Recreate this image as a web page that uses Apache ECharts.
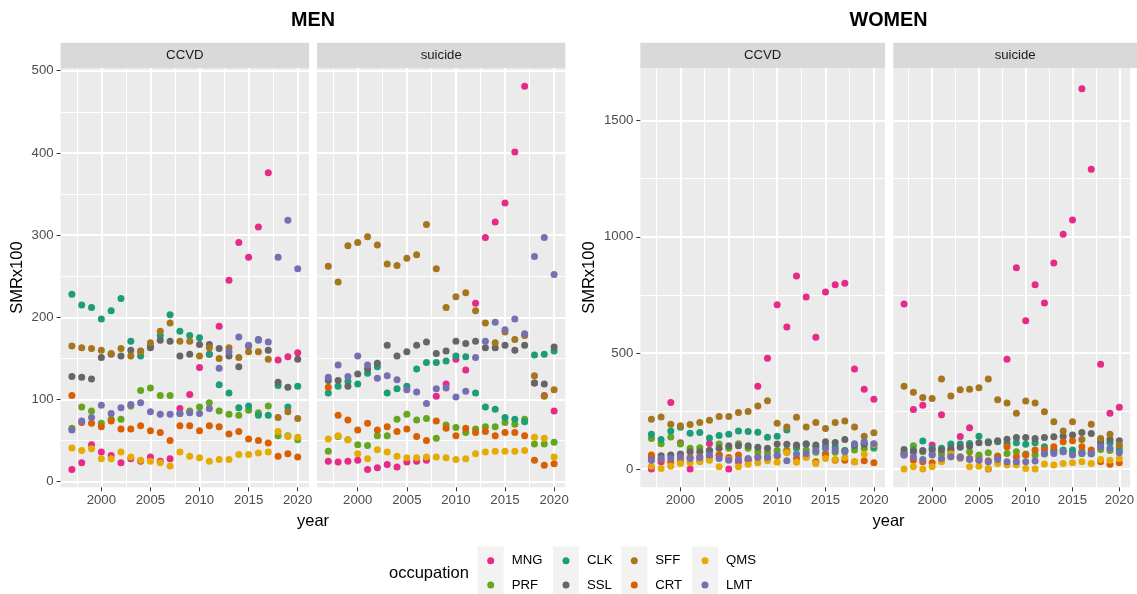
<!DOCTYPE html>
<html>
<head>
<meta charset="utf-8">
<script src="https://cdn.jsdelivr.net/npm/echarts@6/dist/echarts.min.js"></script>
<style>
  html, body { margin: 0; padding: 0; background: #fff; }
  #chart { width: 1137px; height: 594px; }
</style>
</head>
<body>
<div id="chart"></div>
<script>
// years on the x axis
const years = [1997, 1998, 1999, 2000, 2001, 2002, 2003, 2004, 2005, 2006, 2007, 2008,
  2009, 2010, 2011, 2012, 2013, 2014, 2015, 2016, 2017, 2018, 2019, 2020]
const occupations = ['MNG', 'PRF', 'CLK', 'SSL', 'SFF', 'CRT', 'QMS', 'LMT']
const xTicks = [2000, 2005, 2010, 2015, 2020]
const xMinor = [1997.5, 2002.5, 2007.5, 2012.5, 2017.5]
const menTicks = [0, 100, 200, 300, 400, 500]
const menMinor = [50, 150, 250, 350, 450]
const womenTicks = [0, 500, 1000, 1500]
const womenMinor = [250, 750, 1250]

// MEN - CCVD
const menCcvdMNG = [15, 23, 45, 36, 32, 23, 28, 25, 30, 25, 28, 89, 106, 139, 155, 189, 245, 291, 273, 310, 376, 148, 152, 157]
const menCcvdPRF = [65, 91, 86, 71, 76, 76, 92, 111, 114, 105, 105, 83, 86, 91, 96, 86, 82, 81, 87, 84, 92, 56, 56, 51]
const menCcvdCLK = [228, 215, 212, 198, 208, 223, 171, 153, 165, 178, 203, 183, 178, 175, 155, 118, 108, 90, 92, 81, 81, 117, 91, 116]
const menCcvdSSL = [128, 127, 125, 151, 155, 153, 160, 159, 163, 172, 171, 153, 155, 167, 167, 162, 153, 140, 165, 173, 160, 121, 115, 149]
const menCcvdSFF = [165, 163, 162, 160, 156, 162, 153, 158, 169, 183, 193, 171, 171, 153, 163, 150, 163, 151, 158, 158, 149, 78, 85, 77]
const menCcvdCRT = [105, 72, 71, 67, 74, 64, 64, 68, 62, 60, 50, 68, 68, 62, 68, 67, 58, 61, 52, 50, 47, 31, 34, 30]
const menCcvdQMS = [41, 38, 40, 28, 28, 36, 30, 26, 25, 23, 19, 36, 31, 29, 25, 27, 27, 33, 33, 35, 36, 61, 55, 54]
const menCcvdLMT = [63, 74, 78, 93, 83, 90, 94, 96, 85, 82, 82, 83, 84, 83, 89, 138, 158, 176, 166, 172, 170, 273, 318, 259]

// MEN - suicide
const menSuiMNG = [25, 24, 25, 26, 15, 17, 21, 18, 24, 25, 26, 104, 119, 149, 136, 217, 297, 316, 339, 401, 481, 120, 105, 86]
const menSuiPRF = [37, 55, 51, 45, 44, 56, 56, 76, 82, 75, 77, 53, 69, 66, 60, 64, 67, 67, 72, 70, 76, 46, 46, 48]
const menSuiCLK = [108, 116, 122, 119, 132, 140, 108, 113, 116, 137, 145, 145, 147, 153, 152, 108, 91, 88, 78, 76, 73, 154, 155, 159]
const menSuiSSL = [123, 123, 116, 131, 137, 144, 166, 153, 158, 166, 170, 156, 159, 171, 168, 171, 163, 163, 166, 160, 166, 120, 119, 164]
const menSuiSFF = [262, 243, 287, 291, 298, 288, 265, 263, 272, 276, 313, 259, 212, 225, 230, 208, 193, 169, 182, 173, 178, 129, 104, 112]
const menSuiCRT = [115, 81, 75, 63, 71, 63, 67, 61, 64, 55, 50, 74, 65, 56, 65, 60, 61, 56, 60, 60, 56, 26, 20, 22]
const menSuiQMS = [52, 56, 51, 34, 28, 39, 36, 31, 29, 29, 30, 30, 29, 27, 28, 34, 36, 37, 37, 37, 38, 54, 53, 30]
const menSuiLMT = [127, 142, 128, 153, 142, 126, 129, 124, 112, 109, 95, 113, 114, 103, 110, 151, 171, 194, 185, 198, 180, 274, 297, 252]

// WOMEN - CCVD
const womenCcvdMNG = [0, 31, 286, 113, 0, 38, 110, 60, 0, 31, 38, 356, 477, 707, 611, 831, 741, 567, 762, 793, 800, 431, 343, 300]
const womenCcvdPRF = [131, 109, 138, 108, 89, 91, 79, 108, 89, 109, 89, 74, 70, 79, 82, 89, 82, 72, 67, 72, 79, 82, 89, 89]
const womenCcvdCLK = [150, 127, 164, 180, 154, 157, 133, 144, 150, 163, 161, 158, 137, 141, 168, 95, 107, 95, 100, 95, 80, 100, 110, 95]
const womenCcvdSSL = [53, 57, 60, 64, 74, 74, 79, 89, 100, 100, 100, 93, 89, 107, 106, 103, 107, 103, 117, 114, 127, 103, 106, 106]
const womenCcvdSFF = [214, 224, 193, 186, 191, 200, 210, 226, 226, 243, 248, 271, 294, 197, 181, 223, 181, 200, 174, 200, 207, 181, 141, 156]
const womenCcvdCRT = [60, 41, 31, 38, 49, 53, 53, 60, 49, 60, 41, 53, 49, 56, 74, 45, 53, 31, 60, 38, 38, 31, 35, 27]
const womenCcvdQMS = [12, 2, 12, 24, 27, 31, 38, 9, 41, 9, 20, 27, 35, 29, 70, 29, 49, 24, 45, 41, 49, 31, 63, 105]
const womenCcvdLMT = [38, 45, 45, 53, 45, 49, 60, 45, 38, 41, 45, 49, 49, 60, 35, 64, 67, 79, 89, 82, 74, 109, 117, 109]

// WOMEN - suicide
const womenSuiMNG = [710, 256, 274, 103, 233, 80, 140, 178, 53, 0, 53, 473, 867, 638, 793, 715, 887, 1011, 1072, 1638, 1291, 451, 240, 266]
const womenSuiPRF = [67, 100, 74, 64, 64, 67, 53, 74, 60, 70, 56, 67, 74, 64, 60, 64, 74, 74, 70, 67, 64, 84, 79, 96]
const womenSuiCLK = [70, 82, 120, 89, 89, 107, 107, 110, 141, 117, 117, 110, 113, 106, 113, 96, 82, 82, 82, 74, 70, 110, 113, 82]
const womenSuiSSL = [84, 74, 79, 82, 82, 89, 93, 99, 113, 113, 121, 128, 136, 136, 131, 136, 139, 141, 146, 157, 153, 120, 127, 121]
const womenSuiSFF = [356, 330, 308, 304, 388, 314, 341, 343, 350, 388, 298, 284, 240, 293, 284, 246, 203, 164, 203, 127, 193, 131, 150, 103]
const womenSuiCRT = [60, 38, 31, 27, 41, 53, 49, 45, 38, 35, 53, 96, 53, 60, 82, 84, 96, 117, 121, 96, 82, 31, 20, 27]
const womenSuiQMS = [0, 9, 0, 10, 31, 64, 45, 10, 12, 2, 24, 17, 17, 2, 0, 21, 17, 24, 27, 31, 24, 41, 38, 45]
const womenSuiLMT = [60, 53, 41, 60, 45, 53, 49, 41, 38, 31, 41, 31, 31, 31, 34, 67, 67, 74, 60, 67, 67, 96, 89, 70]

const colors = {
  MNG: '#E7298A', PRF: '#66A61E', CLK: '#1B9E77', SSL: '#666666',
  SFF: '#A6761D', CRT: '#D95F02', QMS: '#E6AB02', LMT: '#7570B3'
}

const FONT = '"Liberation Sans", Arial, sans-serif'
const plain = v => String(v)

// panels: plot area boxes (px)
const panels = [
  { label: 'CCVD', left: 60.6, width: 248.4, yMin: -6.8, yMax: 503.3, ticks: menTicks, minor: menMinor, showY: true, nameGap: 35,
    data: { MNG: menCcvdMNG, PRF: menCcvdPRF, CLK: menCcvdCLK, SSL: menCcvdSSL, SFF: menCcvdSFF, CRT: menCcvdCRT, QMS: menCcvdQMS, LMT: menCcvdLMT } },
  { label: 'suicide', left: 317, width: 248.4, yMin: -6.8, yMax: 503.3, ticks: menTicks, minor: menMinor, showY: false,
    data: { MNG: menSuiMNG, PRF: menSuiPRF, CLK: menSuiCLK, SSL: menSuiSSL, SFF: menSuiSFF, CRT: menSuiCRT, QMS: menSuiQMS, LMT: menSuiLMT } },
  { label: 'CCVD', left: 640.3, width: 244.7, yMin: -79, yMax: 1727, ticks: womenTicks, minor: womenMinor, showY: true, nameGap: 42,
    data: { MNG: womenCcvdMNG, PRF: womenCcvdPRF, CLK: womenCcvdCLK, SSL: womenCcvdSSL, SFF: womenCcvdSFF, CRT: womenCcvdCRT, QMS: womenCcvdQMS, LMT: womenCcvdLMT } },
  { label: 'suicide', left: 893.3, width: 243.7, yMin: -79, yMax: 1727, ticks: womenTicks, minor: womenMinor, showY: false,
    data: { MNG: womenSuiMNG, PRF: womenSuiPRF, CLK: womenSuiCLK, SSL: womenSuiSSL, SFF: womenSuiSFF, CRT: womenSuiCRT, QMS: womenSuiQMS, LMT: womenSuiLMT } }
]
const TOP = 68
const HEIGHT = 419.3

const grid = []
const xAxis = []
const yAxis = []
const series = []
const graphic = []

panels.forEach((p, gi) => {
  grid.push({ left: p.left, top: TOP, width: p.width, height: HEIGHT, show: true, backgroundColor: '#EBEBEB', borderWidth: 0 })
  // major x axis
  xAxis.push({
    gridIndex: gi, type: 'value', min: 1995.85, max: 2021.15, position: 'bottom',
    axisLine: { show: false, onZero: false },
    axisTick: { show: true, length: 4, customValues: xTicks, lineStyle: { color: '#333333', width: 1 } },
    axisLabel: { customValues: xTicks, formatter: plain, color: '#4D4D4D', fontSize: 13.2, margin: 7, fontFamily: FONT },
    splitLine: { show: true, lineStyle: { color: '#FFFFFF', width: 2 } }
  })
  // minor x grid
  xAxis.push({
    gridIndex: gi, type: 'value', min: 1995.85, max: 2021.15, position: 'bottom',
    axisLine: { show: false, onZero: false },
    axisTick: { show: false, customValues: xMinor },
    axisLabel: { show: false, customValues: xMinor },
    splitLine: { show: true, lineStyle: { color: '#FFFFFF', width: 1 } }
  })
  yAxis.push({
    gridIndex: gi, type: 'value', min: p.yMin, max: p.yMax,
    name: p.showY ? 'SMRx100' : '', nameLocation: 'middle', nameGap: p.nameGap || 30,
    nameTextStyle: { fontSize: 16.5, color: '#000000', fontFamily: FONT },
    axisLine: { show: false, onZero: false },
    axisTick: { show: p.showY, length: 4, customValues: p.ticks, lineStyle: { color: '#333333', width: 1 } },
    axisLabel: { show: p.showY, customValues: p.ticks, formatter: plain, color: '#4D4D4D', fontSize: 13.2, margin: 7, fontFamily: FONT },
    splitLine: { show: true, lineStyle: { color: '#FFFFFF', width: 2 } }
  })
  yAxis.push({
    gridIndex: gi, type: 'value', min: p.yMin, max: p.yMax,
    axisLine: { show: false, onZero: false },
    axisTick: { show: false, customValues: p.minor },
    axisLabel: { show: false, customValues: p.minor },
    splitLine: { show: true, lineStyle: { color: '#FFFFFF', width: 1 } }
  })
  occupations.forEach(occ => {
    series.push({
      type: 'scatter', name: occ, xAxisIndex: gi * 2, yAxisIndex: gi * 2,
      data: years.map((yr, i) => [yr, p.data[occ][i]]),
      symbolSize: 7, itemStyle: { color: colors[occ], opacity: 1 },
      emphasis: { disabled: true }, silent: true
    })
  })
  // facet strip
  graphic.push({ type: 'rect', shape: { x: p.left, y: 42.7, width: p.width, height: 25.3 }, style: { fill: '#D9D9D9' }, z: 0 })
  graphic.push({ type: 'text', x: p.left + p.width / 2, y: 55.6, style: { text: p.label, fill: '#1A1A1A', fontSize: 13.2, fontFamily: FONT, align: 'center', verticalAlign: 'middle' }, z: 1 })
})

// titles and shared axis titles
const groupTitles = [
  { text: 'MEN', x: 313 },
  { text: 'WOMEN', x: 888.5 }
]
groupTitles.forEach(t => {
  graphic.push({ type: 'text', x: t.x, y: 21, style: { text: t.text, fill: '#000', fontSize: 19.8, fontWeight: 'bold', fontFamily: FONT, align: 'center', verticalAlign: 'middle' } })
  graphic.push({ type: 'text', x: t.x, y: 521.5, style: { text: 'year', fill: '#000', fontSize: 16.5, fontFamily: FONT, align: 'center', verticalAlign: 'middle' } })
})

// legend: title + four columns of keys
graphic.push({ type: 'text', x: 389, y: 573, style: { text: 'occupation', fill: '#000', fontSize: 16.5, fontFamily: FONT, align: 'left', verticalAlign: 'middle' } })
const legendCols = [['MNG', 'PRF'], ['CLK', 'SSL'], ['SFF', 'CRT'], ['QMS', 'LMT']]
const legendDot = [490.7, 566, 634.3, 705]
legendDot.forEach(d => {
  graphic.push({ type: 'rect', shape: { x: d - 13, y: 546.5, width: 26, height: 50 }, style: { fill: '#F2F2F2' }, z: 0 })
})
const legend = legendCols.map((col, i) => ({
  data: col, orient: 'vertical', left: legendDot[i] - 3.5, top: 553.7, padding: 0,
  icon: 'circle', itemWidth: 7, itemHeight: 7, itemGap: 10.3, selectedMode: false,
  textStyle: { fontSize: 13.2, color: '#000', lineHeight: 14, fontFamily: FONT, padding: [0, 0, 0, 12.5] },
  z: 10
}))

const chart = echarts.init(document.getElementById('chart'))
chart.setOption({
  animation: false,
  textStyle: { fontFamily: FONT },
  grid, xAxis, yAxis, series, legend, graphic
})
</script>
</body>
</html>
